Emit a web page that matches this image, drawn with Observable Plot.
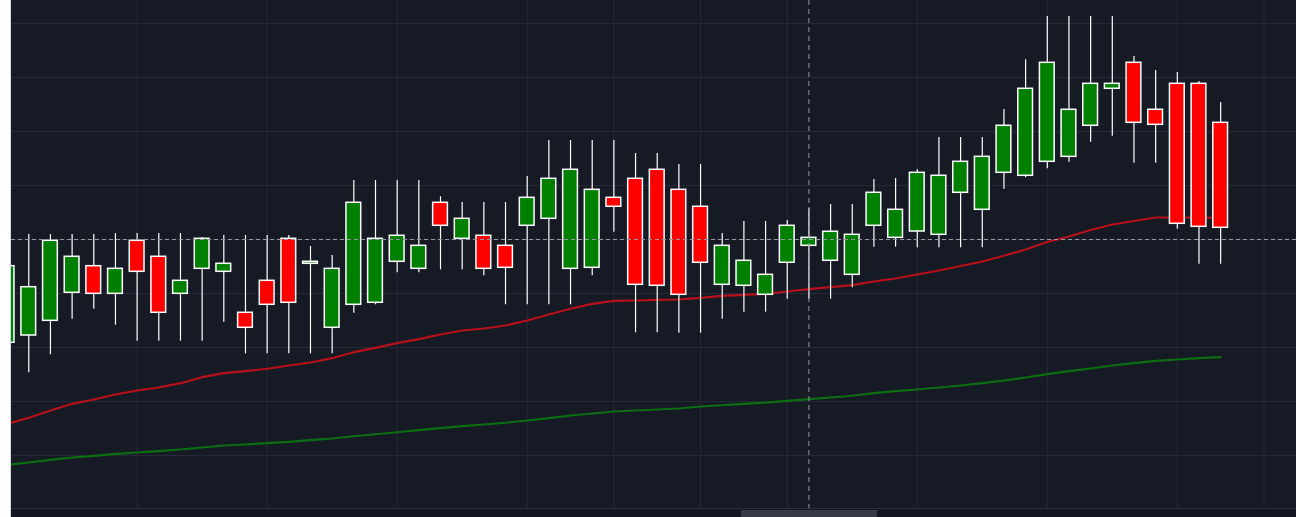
<!DOCTYPE html>
<html>
<head>
<meta charset="utf-8">
<script src="https://cdn.jsdelivr.net/npm/d3@7"></script>
<script src="https://cdn.jsdelivr.net/npm/@observablehq/plot@0.6"></script>
<style>
html, body { margin: 0; padding: 0; background: #ffffff; overflow: hidden; width: 1296px; height: 517px; }
#edge { position: absolute; left: 10px; top: 0; width: 1px; height: 517px; background: #d6d9e0; }
#wrap { position: absolute; left: 11px; top: 0; width: 1285px; height: 517px; background: #161a25; overflow: hidden; }
#chart svg { display: block; }
#track { position: absolute; left: 0; top: 508px; width: 1285px; height: 8px; border-top: 1px solid #2a2e39; background: #131722; }
#thumb { position: absolute; left: 730px; top: 1px; width: 136px; height: 7px; background: #363a45; }
</style>
</head>
<body>
<div id="edge"></div>
<div id="wrap">
  <div id="chart"></div>
  <div id="track"><div id="thumb"></div></div>
</div>
<script>
// OHLC candles (one per session, index = position)
const open  = [30.87,32.22,34.94,40.13,45.06,39.94,49.76,46.80,39.94,44.57,44.02,36.43,42.35,50.13,45.50,33.65,37.91,38.28,45.87,44.57,
               56.80,50.13,50.69,48.83,52.54,53.83,44.57,44.76,57.72,61.24,62.91,59.20,56.06,41.61,41.43,39.76,45.69,48.83,46.06,43.46,
               52.54,50.31,51.48,50.87,58.65,55.50,62.35,61.80,64.39,65.31,71.06,77.91,82.72,74.02,78.83,78.83,71.61];
const high  = [45.74,50.93,50.93,50.93,50.93,51.11,51.11,51.11,51.11,50.37,50.74,50.74,50.74,50.74,48.70,47.04,60.93,60.93,60.93,60.93,
               57.91,56.85,56.85,56.85,61.67,68.33,68.33,68.33,68.33,65.93,65.93,63.89,63.89,51.11,53.33,53.33,53.52,55.74,56.48,56.48,
               61.11,61.30,62.91,68.89,68.89,68.89,74.07,83.28,91.30,91.30,91.30,91.30,83.89,81.30,80.93,79.26,75.37];
const low   = [29.81,25.31,28.65,35.24,37.09,34.13,31.17,31.17,31.17,31.17,34.69,28.83,28.83,28.83,28.83,28.83,36.35,37.91,43.83,43.83,
               44.39,44.39,43.28,37.91,37.91,37.91,37.91,43.28,51.35,32.72,32.72,32.65,32.65,35.24,36.54,36.54,38.94,38.94,38.94,41.06,
               48.57,48.57,48.46,48.46,48.46,48.46,59.31,61.43,63.09,64.31,68.02,69.13,64.13,64.13,51.91,45.43,45.43];
const close = [45.06,41.17,49.76,46.80,39.94,44.57,44.02,36.43,42.35,50.13,45.50,33.65,37.91,38.28,45.87,44.57,56.80,50.13,50.69,48.83,
               52.54,53.83,44.57,44.76,57.72,61.24,62.91,59.20,56.06,41.61,41.43,39.76,45.69,48.83,46.06,43.46,52.54,50.31,51.43,50.87,
               58.65,55.50,62.35,61.80,64.39,65.31,71.06,77.91,82.72,74.02,78.83,78.83,71.61,71.24,52.91,52.35,52.17];

// Moving averages (fast = red, slow = green)
const maFast = [15.83,16.98,18.33,19.57,20.37,21.30,22.04,22.59,23.39,24.50,25.24,25.61,26.06,26.67,27.22,28.02,29.13,29.94,30.80,31.54,
                32.41,33.15,33.52,34.07,35.00,36.11,37.17,38.09,38.65,38.70,38.83,38.89,39.20,39.57,39.76,39.94,40.37,40.80,41.17,41.54,
                42.22,42.78,43.52,44.26,45.09,45.93,46.98,48.15,49.54,50.56,51.76,52.78,53.43,54.07,54.07,54.07,53.98];
const maSlow = [8.28,8.70,9.20,9.63,9.94,10.31,10.56,10.80,11.11,11.48,11.85,12.04,12.28,12.54,12.83,13.15,13.57,13.94,14.31,14.69,
                15.06,15.43,15.74,16.06,16.48,16.91,17.41,17.78,18.15,18.33,18.52,18.70,19.07,19.31,19.57,19.81,20.13,20.43,20.74,21.06,
                21.54,21.91,22.22,22.59,22.96,23.39,23.89,24.44,25.06,25.61,26.11,26.67,27.09,27.54,27.78,28.02,28.20];

// Grid ticks and crosshair
const timeGridIndex = [6, 12, 18, 24, 28, 32, 36, 42, 48, 54, 58];
const priceGrid = [10, 20, 30, 40, 50, 60, 70, 80, 90];
const crossIndex = 37;
const crossPrice = 50;

const UP = "#008000", DOWN = "#ff0000";
const candles = open.map((o, i) => ({i, open: o, high: high[i], low: low[i], close: close[i]}));
const ma = maFast.map((f, i) => ({i, fast: f, slow: maSlow[i]}));
const gridColor = "#252a36";
const half = 0.34;

const chart = Plot.plot({
  width: 1285,
  height: 508,
  marginTop: 0, marginRight: 0, marginBottom: 0, marginLeft: 0,
  style: {background: "#161a25", overflow: "hidden"},
  x: {type: "linear", domain: [0.203, 59.5], range: [0, 1285], axis: null},
  y: {domain: [0, 94.26], range: [509, 0], axis: null},
  marks: [
    Plot.ruleX(timeGridIndex, {stroke: gridColor, strokeWidth: 1}),
    Plot.ruleY(priceGrid, {stroke: gridColor, strokeWidth: 1}),
    Plot.line(ma, {x: "i", y: "slow", stroke: "#0b6e10", strokeWidth: 2.2, clip: true}),
    Plot.line(ma, {x: "i", y: "fast", stroke: "#b8101a", strokeWidth: 2.2, clip: true}),
    Plot.ruleX(candles, {x: "i", y1: "low", y2: "high", stroke: "#ffffff", strokeWidth: 1.2, clip: true}),
    Plot.rect(candles, {
      x1: d => d.i - half, x2: d => d.i + half,
      y1: "open", y2: "close",
      fill: d => d.close >= d.open ? UP : DOWN,
      stroke: "#ffffff", strokeWidth: 1.5, clip: true
    }),
    Plot.ruleY([crossPrice], {stroke: "#9598a1", strokeWidth: 1, strokeDasharray: "4 3"}),
    Plot.ruleX([crossIndex], {stroke: "#9598a1", strokeWidth: 1, strokeDasharray: "5 4"})
  ]
});
document.getElementById("chart").appendChild(chart);
</script>
</body>
</html>
